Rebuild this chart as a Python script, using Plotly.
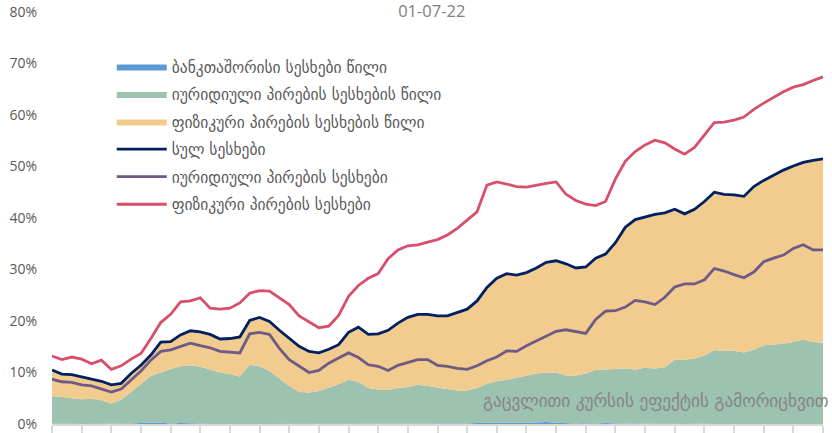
import plotly.graph_objects as go

# period index (weekly observations, no axis labels in the original)
periods = list(range(79))

interbank_share = [0.05, 0.1, 0.05, 0.0, 0.0, 0.0, 0.0, 0.1, 0.1, 0.2, 0.3, 0.25, 0.1, 0.2, 0.2, 0.1,
                   0.0, 0.0, 0.0, 0.0, 0.0, 0.0, 0.0, 0.0, 0.0, 0.0, 0.0, 0.0, 0.0, 0.0, 0.0, 0.0,
                   0.0, 0.0, 0.0, 0.0, 0.0, 0.0, 0.0, 0.0, 0.0, 0.0, 0.1, 0.2, 0.25, 0.3, 0.35, 0.3,
                   0.2, 0.3, 0.4, 0.25, 0.15, 0.1, 0.15, 0.1, 0.2, 0.1, 0.05, 0.1, 0.05, 0.1, 0.05, 0.05,
                   0.0, 0.05, 0.1, 0.0, 0.0, 0.0, 0.0, 0.0, 0.0, 0.0, 0.0, 0.0, 0.0, 0.0, 0.0]

legal_share = [5.35, 5.2, 4.95, 4.8, 4.9, 4.6, 4.0, 4.6, 6.1, 7.6, 9.0, 9.75, 10.6, 11.0, 11.2, 11.0,
               10.5, 10.0, 9.7, 9.2, 11.5, 11.2, 10.3, 8.8, 7.4, 6.2, 6.1, 6.4, 7.0, 7.7, 8.6, 8.2,
               7.0, 6.7, 6.6, 7.0, 7.2, 7.6, 7.4, 7.1, 6.9, 6.5, 6.4, 6.8, 7.55, 8.0, 8.25, 8.7,
               9.1, 9.5, 9.6, 9.75, 9.25, 9.3, 9.65, 10.4, 10.4, 10.6, 10.75, 10.5, 10.85, 10.7, 10.95, 12.45,
               12.5, 12.65, 13.2, 14.3, 14.3, 14.2, 13.9, 14.4, 15.3, 15.4, 15.6, 15.9, 16.4, 15.9, 15.8]

individual_share = [5.1, 4.4, 4.6, 4.3, 3.8, 3.7, 3.6, 3.2, 3.6, 3.6, 4.1, 5.9, 5.3, 6.1, 6.7, 6.8,
                    6.9, 6.5, 6.9, 7.7, 8.6, 9.5, 9.6, 9.4, 9.3, 8.9, 8.0, 7.4, 7.5, 7.7, 9.2, 10.6,
                    10.4, 10.8, 11.6, 12.6, 13.5, 13.7, 13.9, 13.9, 14.1, 15.2, 15.8, 16.9, 18.7, 20.0, 20.6, 19.9,
                    20.1, 20.5, 21.4, 21.7, 21.7, 20.9, 20.7, 21.7, 22.4, 24.5, 27.4, 29.1, 29.3, 29.9, 30.0, 29.2,
                    28.3, 29.0, 29.9, 30.7, 30.3, 30.3, 30.3, 31.7, 32.0, 32.9, 33.7, 34.2, 34.4, 35.3, 35.7]

total_loans = [10.5, 9.7, 9.6, 9.1, 8.7, 8.3, 7.6, 7.9, 9.8, 11.4, 13.4, 15.9, 16.0, 17.3, 18.1, 17.9,
               17.4, 16.5, 16.6, 16.9, 20.1, 20.7, 19.9, 18.2, 16.7, 15.1, 14.1, 13.8, 14.5, 15.4, 17.8, 18.8,
               17.4, 17.5, 18.2, 19.6, 20.7, 21.3, 21.3, 21.0, 21.0, 21.7, 22.3, 23.9, 26.5, 28.3, 29.2, 28.9,
               29.4, 30.3, 31.4, 31.7, 31.1, 30.3, 30.5, 32.2, 33.0, 35.2, 38.2, 39.7, 40.2, 40.7, 41.0, 41.7,
               40.8, 41.7, 43.2, 45.0, 44.6, 44.5, 44.2, 46.1, 47.3, 48.3, 49.3, 50.1, 50.8, 51.2, 51.5]

legal_loans = [8.7, 8.2, 8.1, 7.6, 7.4, 6.8, 6.2, 6.8, 8.6, 10.3, 12.4, 14.1, 14.4, 15.0, 15.7, 15.2,
               14.8, 14.1, 14.0, 13.8, 17.5, 17.8, 17.4, 14.7, 12.5, 11.2, 10.0, 10.4, 11.8, 12.8, 13.8, 12.9,
               11.5, 11.2, 10.4, 11.4, 11.9, 12.5, 12.5, 11.4, 11.2, 10.8, 10.6, 11.3, 12.3, 13.0, 14.2, 14.1,
               15.2, 16.1, 17.0, 18.0, 18.3, 18.0, 17.6, 20.3, 21.9, 22.0, 22.7, 24.0, 23.7, 23.2, 24.6, 26.6,
               27.2, 27.2, 28.0, 30.2, 29.7, 29.0, 28.4, 29.5, 31.5, 32.2, 32.8, 34.1, 34.8, 33.8, 33.8]

individual_loans = [13.2, 12.5, 13.0, 12.6, 11.7, 12.4, 10.6, 11.3, 12.6, 13.7, 16.6, 19.7, 21.3, 23.7, 23.9, 24.5,
                    22.5, 22.3, 22.5, 23.5, 25.4, 25.9, 25.8, 24.5, 23.2, 21.0, 19.9, 18.7, 19.0, 21.1, 24.8, 26.9,
                    28.3, 29.2, 32.1, 33.8, 34.6, 34.8, 35.3, 35.8, 36.7, 38.0, 39.6, 41.2, 46.4, 47.0, 46.6, 46.1,
                    46.0, 46.4, 46.7, 47.0, 44.6, 43.4, 42.7, 42.4, 43.2, 47.6, 51.0, 52.9, 54.2, 55.1, 54.6, 53.4,
                    52.4, 53.7, 56.2, 58.5, 58.6, 59.0, 59.6, 61.1, 62.3, 63.4, 64.5, 65.4, 65.9, 66.7, 67.4]

names = ["ბანკთაშორისი სესხები წილი",
         "იურიდიული პირების სესხების წილი",
         "ფიზიკური პირების სესხების წილი",
         "სულ სესხები",
         "იურიდიული პირების სესხები",
         "ფიზიკური პირების სესხები"]

title_text = "01-07-22"
note_text = "გაცვლითი კურსის ეფექტის გამორიცხვით"

area_colors = ["#5B9BD5", "#9DC2B0", "#F2CB8E"]
line_colors = ["#002060", "#6E5A85", "#D94F6B"]

fig = go.Figure()
for i, (vals, col) in enumerate(zip([interbank_share, legal_share, individual_share], area_colors)):
    fig.add_trace(go.Scatter(x=periods, y=vals, name=names[i], stackgroup="shares", mode="lines",
                             line=dict(width=0, color=col), fillcolor=col, legendgroup=f"g{i}"))
for j, (vals, col) in enumerate(zip([total_loans, legal_loans, individual_loans], line_colors)):
    fig.add_trace(go.Scatter(x=periods, y=vals, name=names[3 + j], mode="lines",
                             line=dict(width=2.8, color=col), legendgroup=f"g{3 + j}"))

fig.update_layout(
    width=832, height=433,
    margin=dict(l=52, r=9, t=12, b=9, autoexpand=False),
    paper_bgcolor="white", plot_bgcolor="white",
    font=dict(family="DejaVu Sans, Noto Sans, sans-serif", color="#595959", size=13),
    showlegend=True,
    legend=dict(x=0.0775, y=0.908, xanchor="left", yanchor="top", bgcolor="rgba(0,0,0,0)",
                font=dict(size=15.5, color="#595959"), itemwidth=50, tracegroupgap=4.4,
                traceorder="grouped"),
    title=dict(text=title_text, x=0.519, y=0.973, xanchor="center", yanchor="middle",
               xref="container", yref="container",
               font=dict(family="Open Sans, sans-serif", size=16.5, color="#808080")),
    annotations=[dict(text=note_text, xref="paper", yref="paper", x=0.557, y=0.055,
                      xanchor="left", yanchor="middle", showarrow=False,
                      font=dict(size=17.2, color="#858585"))],
)
fig.update_xaxes(range=[0, 78], tickmode="linear", tick0=0, dtick=3, ticks="outside", ticklen=7,
                 tickcolor="#D9D9D9", tickwidth=1.5, showticklabels=False, showline=True,
                 linecolor="#D9D9D9", linewidth=1.5, showgrid=False, zeroline=False, automargin=False)
fig.update_yaxes(range=[0, 80], tickmode="linear", tick0=0, dtick=10, ticksuffix="%",
                 showgrid=False, zeroline=False, showline=False, ticklabelstandoff=14, automargin=False,
                 tickfont=dict(family="Open Sans, sans-serif", size=14, color="#595959"))

fig.write_html("out.html", config={"displayModeBar": False},
               post_script="document.body.style.margin='0px';document.body.style.overflow='hidden';")
